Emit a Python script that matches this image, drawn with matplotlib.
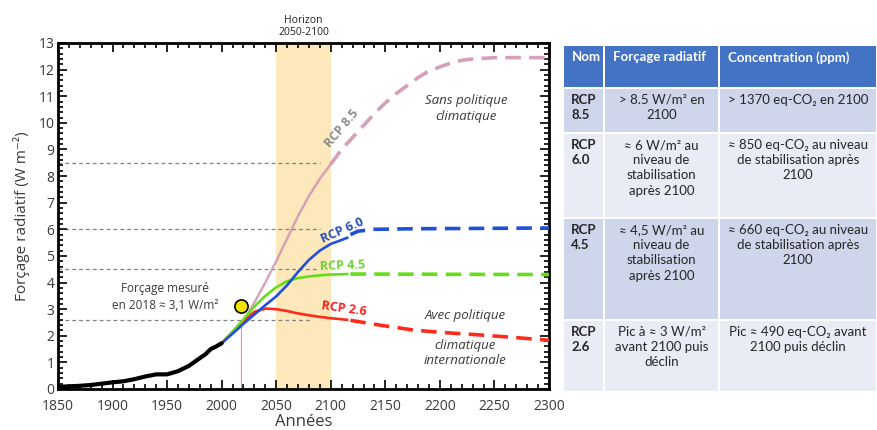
import matplotlib
matplotlib.use("Agg")
import matplotlib.pyplot as plt
from matplotlib.patches import Rectangle
from matplotlib.ticker import MultipleLocator

# ---------------- data ----------------
hist_years = [1850, 1860, 1870, 1880, 1890, 1900, 1910, 1920, 1930, 1940,
              1950, 1960, 1970, 1980, 1985, 1990, 1995, 2000]
hist_forcing = [0.08, 0.10, 0.12, 0.15, 0.20, 0.25, 0.29, 0.37, 0.47, 0.55,
                0.55, 0.67, 0.87, 1.16, 1.30, 1.50, 1.60, 1.72]

proj_years = [2000, 2010, 2020, 2030, 2040, 2050, 2060, 2070, 2080, 2090, 2100]
rcp85_solid = [1.72, 2.15, 2.55, 3.25, 4.00, 4.80, 5.65, 6.50, 7.25, 7.90, 8.45]
rcp60_solid = [1.72, 2.08, 2.45, 2.80, 3.15, 3.48, 3.90, 4.40, 4.85, 5.20, 5.45]
rcp45_solid = [1.72, 2.15, 2.62, 3.10, 3.50, 3.82, 4.05, 4.17, 4.23, 4.27, 4.30]
rcp26_solid = [1.72, 2.15, 2.55, 2.90, 3.02, 3.00, 2.93, 2.84, 2.77, 2.71, 2.66]

tail_years = [2110, 2115]
rcp60_tail = [5.60, 5.68]
rcp45_tail = [4.31, 4.32]
rcp26_tail = [2.62, 2.60]

ext85_years = [2100, 2110, 2120, 2130, 2140, 2150, 2160, 2170, 2180, 2190,
               2200, 2210, 2220, 2230, 2250, 2300]
ext85_vals = [8.45, 9.00, 9.45, 9.90, 10.35, 10.75, 11.10, 11.40, 11.70, 11.95,
              12.10, 12.25, 12.35, 12.40, 12.45, 12.45]
ext60_years = [2118, 2125, 2140, 2175, 2300]
ext60_vals = [5.80, 5.93, 6.00, 6.02, 6.05]
ext45_years = [2118, 2300]
ext45_vals = [4.32, 4.30]
ext26_years = [2118, 2145, 2175, 2200, 2237, 2270, 2300]
ext26_vals = [2.58, 2.40, 2.22, 2.13, 2.03, 1.93, 1.83]

ref_levels = [8.5, 6.0, 4.5, 2.6]
ref_ends = [2090, 2090, 2087, 2083]

measured_year = 2018
measured_value = 3.1

horizon = (2050, 2100)

table_header = ["Nom", "Forçage radiatif", "Concentration (ppm)"]
table_names = ["RCP\n8.5", "RCP\n6.0", "RCP\n4.5", "RCP\n2.6"]
table_forcing = ["> 8.5 W/m² en\n2100",
                 "≈ 6 W/m² au\nniveau de\nstabilisation\naprès 2100",
                 "≈ 4,5 W/m² au\nniveau de\nstabilisation\naprès 2100",
                 "Pic à ≈ 3 W/m²\navant 2100 puis\ndéclin"]
table_conc = ["> 1370 eq-CO₂ en 2100",
              "≈ 850 eq-CO₂ au niveau\nde stabilisation après\n2100",
              "≈ 660 eq-CO₂ au niveau\nde stabilisation après\n2100",
              "Pic ≈ 490 eq-CO₂ avant\n2100 puis déclin"]

# ---------------- style ----------------
CHART_FONT = ["Open Sans", "DejaVu Sans"]
TABLE_FONT = ["Lato", "DejaVu Sans"]
C85, C60, C45, C26 = "#cf8fb0", "#2050d8", "#66dd1a", "#ff2a1a"
TXT = "#3a3a3a"

fig = plt.figure(figsize=(8.77, 4.30), dpi=100)
W, H = 877, 430
ax = fig.add_axes([58 / W, 1 - 389 / H, (549 - 58) / W, (389 - 43) / H])

ax.set_xlim(1850, 2300)
ax.set_ylim(0, 13)
ax.axvspan(*horizon, color="#fce8bb", zorder=0, lw=0)

for lvl, end in zip(ref_levels, ref_ends):
    ax.plot([1850, end], [lvl, lvl], color="#808080", lw=0.9,
            ls=(0, (3, 2.5)), zorder=1)

ax.plot([measured_year, measured_year], [0, 2.4], color="#ff8a8a", lw=0.8, zorder=2)

# projections (solid to 2100 and beyond), then dashed extensions
dash = (0, (4.3, 2.3))
ax.plot(proj_years, rcp85_solid, color=C85, lw=1.8, alpha=0.8, zorder=3)
ax.plot(ext85_years, ext85_vals, color=C85, lw=2.6, ls=dash, alpha=0.85, zorder=3)
for ys, tail, ext_y, ext_v, col in [
        (rcp26_solid, rcp26_tail, ext26_years, ext26_vals, C26),
        (rcp45_solid, rcp45_tail, ext45_years, ext45_vals, C45),
        (rcp60_solid, rcp60_tail, ext60_years, ext60_vals, C60)]:
    ax.plot(proj_years + tail_years, ys + tail, color=col, lw=1.9, zorder=4)
    ax.plot(ext_y, ext_v, color=col, lw=2.6, ls=dash, zorder=4)

ax.plot(hist_years, hist_forcing, color="black", lw=3.0, zorder=5,
        solid_capstyle="round")

ax.plot([measured_year], [measured_value], "o", ms=9.5, mfc="#f2e600",
        mec="black", mew=1.2, zorder=6)

# annotations
ax.text(2075, 13.2, "Horizon\n2050-2100", ha="center", va="bottom", fontsize=7.5,
        color="#222222", family=CHART_FONT, linespacing=1.1, clip_on=False)
ax.text(1948, 3.45, "Forçage mesuré\nen 2018 ≈ 3,1 W/m²", ha="center", va="center",
        fontsize=8.5, color=TXT, family=CHART_FONT, linespacing=1.35)
ax.text(2224, 10.55, "Sans politique\nclimatique", ha="center", va="center",
        fontsize=9.5, style="italic", color=TXT, family=CHART_FONT, linespacing=1.3)
ax.text(2223, 2.78, "Avec politique", ha="center", va="center",
        fontsize=9.5, style="italic", color=TXT, family=CHART_FONT)
ax.text(2223, 1.35, "climatique\ninternationale", ha="center", va="center",
        fontsize=9.5, style="italic", color=TXT, family=CHART_FONT, linespacing=1.25)

ax.text(2110, 9.8, "RCP 8.5", rotation=50, ha="center", va="center",
        fontsize=9, weight="bold", color="#8c8c8c", family=CHART_FONT)
ax.text(2111, 5.95, "RCP 6.0", rotation=24, ha="center", va="center",
        fontsize=9, weight="bold", color="#2a4fb8", family=CHART_FONT)
ax.text(2111, 4.65, "RCP 4.5", rotation=2, ha="center", va="center",
        fontsize=9, weight="bold", color="#70cf3a", family=CHART_FONT)
ax.text(2112, 3.0, "RCP 2.6", rotation=-8, ha="center", va="center",
        fontsize=9, weight="bold", color="#ff2020", family=CHART_FONT)

# axes frame and ticks
for s in ax.spines.values():
    s.set_linewidth(2.0)
ax.xaxis.set_major_locator(MultipleLocator(50))
ax.xaxis.set_minor_locator(MultipleLocator(10))
ax.yaxis.set_major_locator(MultipleLocator(1))
ax.yaxis.set_minor_locator(MultipleLocator(0.2))
ax.tick_params(which="both", direction="in", top=True, right=True, width=1.2,
               labelsize=10, labelcolor=TXT)
ax.tick_params(which="major", length=6.5)
ax.tick_params(which="minor", length=3.5)
ax.tick_params(axis="x", which="major", pad=7.5)
ax.tick_params(axis="y", which="major", pad=2.5)
for lab in ax.get_xticklabels() + ax.get_yticklabels():
    lab.set_family(CHART_FONT)
ax.set_xlabel("Années", fontsize=12, color=TXT, family=CHART_FONT, labelpad=0)
ax.set_ylabel("Forçage radiatif (W m⁻²)", fontsize=11, color=TXT,
              family=CHART_FONT, labelpad=6)

# ---------------- table ----------------
tab = fig.add_axes([0, 0, 1, 1], facecolor="none")
tab.set_xlim(0, W)
tab.set_ylim(H, 0)
tab.axis("off")

col_edges = [563, 604, 719, 877]
row_edges = [45, 88, 133, 218, 320, 392]
row_colors = ["#4472c4", "#cfd5ea", "#e9ebf5", "#cfd5ea", "#e9ebf5"]
gap = 1.5

for r in range(5):
    y0, y1 = row_edges[r], row_edges[r + 1]
    for c in range(3):
        x0, x1 = col_edges[c], col_edges[c + 1]
        tab.add_patch(Rectangle((x0 + gap / 2, y0 + gap / 2), x1 - x0 - gap,
                                y1 - y0 - gap, facecolor=row_colors[r], lw=0))

for c, label in enumerate(table_header):
    tab.text(col_edges[c] + 9, row_edges[0] + 6, label, ha="left", va="top",
             fontsize=9.5, weight="bold", color="white", family=TABLE_FONT)

for r in range(4):
    y_top = row_edges[r + 1] + 6
    tab.text(col_edges[0] + 8, y_top, table_names[r], ha="left", va="top",
             fontsize=9.5, weight="bold", color="#262626", family=TABLE_FONT,
             linespacing=1.32)
    tab.text((col_edges[1] + col_edges[2]) / 2, y_top, table_forcing[r],
             ha="center", va="top", fontsize=9.5, color="#262626",
             family=TABLE_FONT, linespacing=1.32)
    tab.text((col_edges[2] + col_edges[3]) / 2, y_top, table_conc[r],
             ha="center", va="top", fontsize=9.5, color="#262626",
             family=TABLE_FONT, linespacing=1.32)

fig.savefig("out.png", dpi=100)
